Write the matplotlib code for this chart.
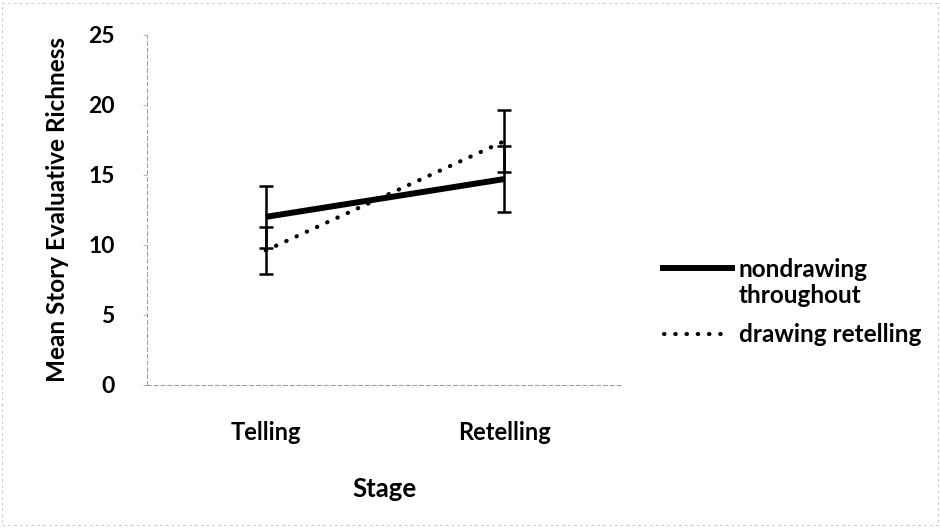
import numpy as np
import matplotlib.pyplot as plt
from matplotlib.lines import Line2D

# Data
stages = ['Telling', 'Retelling']
nondrawing = [12.0, 14.7]
nondrawing_err = [2.2, 2.35]
drawing = [9.6, 17.4]
drawing_err = [1.7, 2.2]
y_ticks = [0, 5, 10, 15, 20, 25]

plt.rcParams['font.family'] = ['Lato', 'DejaVu Sans']

fig = plt.figure(figsize=(9.4, 5.28), dpi=100)
ax = fig.add_axes([0.156, 0.271, 0.507, 0.663])

x = np.arange(len(stages))
dotted = (0, (0.1, 2.6))

# Lines
ax.plot(x, nondrawing, color='black', lw=4.3, solid_capstyle='butt', zorder=3)
ax.plot(x, drawing, color='black', lw=3, linestyle=dotted,
        dash_capstyle='round', zorder=3)

# Error bars
ax.errorbar(x, nondrawing, yerr=nondrawing_err, fmt='none', ecolor='black',
            elinewidth=1.8, capsize=5, capthick=1.8, zorder=2)
ax.errorbar(x, drawing, yerr=drawing_err, fmt='none', ecolor='black',
            elinewidth=1.8, capsize=5, capthick=1.8, zorder=2)

ax.set_xlim(-0.5, 1.5)
ax.set_ylim(0, 25)
ax.set_yticks(y_ticks)
ax.set_xticks(x)
ax.set_xticklabels(stages)

ax.tick_params(axis='y', labelsize=16.5, length=3, color='#aaaaaa', width=0.6, pad=20)
ax.tick_params(axis='x', labelsize=17, length=0, pad=26)
for lab in ax.get_xticklabels() + ax.get_yticklabels():
    lab.set_fontweight('bold')

for s in ['top', 'right']:
    ax.spines[s].set_visible(False)
for s in ['left', 'bottom']:
    ax.spines[s].set_color('#999999')
    ax.spines[s].set_linewidth(0.7)
    ax.spines[s].set_linestyle((0, (4, 3)))

ax.set_ylabel('Mean Story Evaluative Richness', fontsize=17.5, fontweight='bold', labelpad=14)
ax.set_xlabel('Stage', fontsize=18.5, fontweight='bold', labelpad=24)

# Legend drawn by hand so the solid handle sits on the first text line
fig.add_artist(Line2D([0.702, 0.782], [0.492, 0.492], color='black', lw=4.3,
                      solid_capstyle='butt', transform=fig.transFigure))
fig.add_artist(Line2D([0.706, 0.776], [0.367, 0.367], color='black', lw=3,
                      linestyle=dotted, dash_capstyle='round',
                      transform=fig.transFigure))
fig.text(0.786, 0.489, 'nondrawing', fontsize=17.5, fontweight='bold', va='center')
fig.text(0.786, 0.441, 'throughout', fontsize=17.5, fontweight='bold', va='center')
fig.text(0.786, 0.367, 'drawing retelling', fontsize=17.5, fontweight='bold', va='center')

# Faint outer border of the scanned chart area
fig.patches.append(plt.Rectangle((0.002, 0.005), 0.996, 0.99, transform=fig.transFigure,
                                 fill=False, edgecolor='#bbbbbb', lw=0.6,
                                 linestyle=(0, (3, 4))))

fig.savefig('out.png', dpi=100)
